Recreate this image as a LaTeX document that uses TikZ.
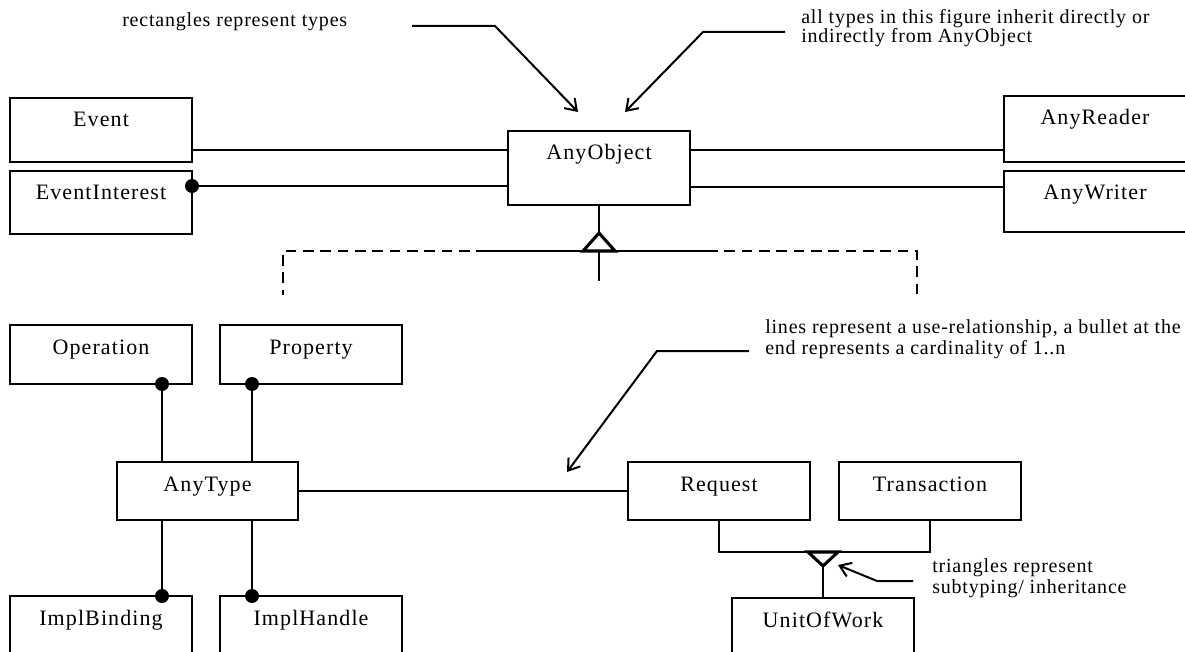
\documentclass[tikz,border=0pt]{standalone}
\usepackage{fontspec}
\setmainfont{Liberation Serif}
\newfontfamily\boxfont[LetterSpace=5]{Liberation Serif}
\newfontfamily\annfont[LetterSpace=4]{Liberation Serif}
\usetikzlibrary{arrows.meta,calc}
\begin{document}
\begin{tikzpicture}[x=0.75pt,y=-0.75pt,
  typebox/.style={draw, line width=1.5pt, anchor=north west, inner xsep=0pt, inner ysep=0pt,
    outer sep=0pt, minimum width=136.5pt, text height=21.75pt,
    font=\boxfont\fontsize{16.5pt}{19pt}\selectfont},
  conn/.style={line width=1.6pt},
  dashline/.style={line width=1.6pt, dash pattern=on 8pt off 5pt},
  tri/.style={line width=2.3pt, fill=white, line join=miter},
  ann/.style={inner sep=0pt, anchor=base west, align=left},
  annA/.style={font=\annfont\fontsize{15pt}{13.5pt}\selectfont},
  annB/.style={font=\annfont\fontsize{15pt}{15.75pt}\selectfont},
  annarrow/.style={line width=1.5pt, -{Straight Barb[length=8pt,width=11pt]}},
  bullet/.style={fill=black}
]
\useasboundingbox (0,0) rectangle (1185,652);
\clip (0,0) rectangle (1185,652);

% ---------- top row ----------
\node[typebox, text depth=26.25pt] (event) at (10,98) {Event};
\node[typebox, text depth=25.5pt] (evint) at (10,171) {EventInterest};
\node[typebox, text depth=33.75pt] (anyobj) at (508,131) {AnyObject};
\node[typebox, text depth=27.75pt] (reader) at (1004,96) {AnyReader};
\node[typebox, text depth=24pt] (writer) at (1004,171) {AnyWriter};

\path (event.south east) ++(0,-12) coordinate (e1);
\draw[conn] (e1) -- (anyobj.west |- e1);
\path (evint.north east) ++(0,15) coordinate (e2);
\draw[conn] (e2) -- (anyobj.west |- e2);
\fill[bullet] (e2) circle (7);
\path (reader.south west) ++(0,-12) coordinate (r1);
\draw[conn] (anyobj.east |- r1) -- (r1);
\path (writer.north west) ++(0,16) coordinate (w1);
\draw[conn] (anyobj.east |- w1) -- (w1);

% ---------- inheritance from AnyObject ----------
\path (anyobj.south) ++(0,28) coordinate (apex1);
\path (apex1) ++(0,18) coordinate (base1);
\path (base1) ++(-112,0) coordinate (hl);
\path (base1) ++(108,0) coordinate (hr);
\coordinate (dl) at (283,295);
\coordinate (dr) at (917,295);
\coordinate (down1) at ($(base1)+(0,30)$);
\draw[conn] (anyobj.south) -- (apex1);
\draw[dashline] (hl) -- (dl |- hl) -- (dl);
\draw[dashline] (hr) -- (dr |- hr) -- (dr);
\draw[line width=1.9pt] (hl) -- (hr);
\draw[conn] (base1) -- (down1);
\draw[tri] (apex1) -- ($(base1)+(-16,0)$) -- ($(base1)+(16,0)$) -- cycle;

% ---------- lower left ----------
\node[typebox, text depth=22.5pt] (op) at (10,325) {Operation};
\node[typebox, text depth=22.5pt] (prop) at (220,325) {Property};
\node[typebox, text depth=21.75pt, minimum width=135.75pt] (anytype) at (117,462) {AnyType};
\node[typebox, text depth=26.25pt] (implb) at (10,596) {ImplBinding};
\node[typebox, text depth=26.25pt] (implh) at (220,596) {ImplHandle};

\path (op.south east) ++(-30,0) coordinate (o1);
\path (prop.south west) ++(32,0) coordinate (p1);
\draw[conn] (o1) -- (o1 |- anytype.north);
\draw[conn] (p1) -- (p1 |- anytype.north);
\fill[bullet] (o1) circle (7);
\fill[bullet] (p1) circle (7);
\draw[conn] (o1 |- anytype.south) -- (o1 |- implb.north);
\draw[conn] (p1 |- anytype.south) -- (p1 |- implh.north);
\fill[bullet] (o1 |- implb.north) circle (7);
\fill[bullet] (p1 |- implh.north) circle (7);

% ---------- lower right ----------
\node[typebox, text depth=21.75pt] (req) at (628,462) {Request};
\node[typebox, text depth=21.75pt] (trans) at (839,462) {Transaction};
\node[typebox, text depth=26.25pt] (uow) at (732,598) {UnitOfWork};

\draw[conn] (anytype.east) -- (req.west);
\path (uow.north) ++(0,-32) coordinate (apex2);
\path (apex2) ++(0,-14) coordinate (base2);
\draw[line width=1.9pt] (req.south) -- (req.south |- base2) -- (trans.south |- base2) -- (trans.south);
\draw[tri] (apex2) -- ($(base2)+(-15,0)$) -- ($(base2)+(15,0)$) -- cycle;
\draw[conn] (apex2) -- (uow.north);

% ---------- annotations ----------
\node[ann, annA] (t1) at (122,27) {rectangles represent types};
\coordinate (a1s) at (412,26);
\coordinate (a1m) at (495,26);
\coordinate (a1t) at (578,112);
\draw[annarrow] (a1s) -- (a1m) -- (a1t);

\node[ann, annA] (t2) at (801,43) {all types in this figure inherit directly or\\indirectly from AnyObject};
\coordinate (a2s) at (785,32);
\coordinate (a2m) at (703,32);
\coordinate (a2t) at (625,112);
\draw[annarrow] (a2s) -- (a2m) -- (a2t);

\node[ann, annB] (t3) at (765,354) {lines represent a use-relationship, a bullet at the\\end represents a cardinality of 1..n};
\coordinate (a3s) at (749,351);
\coordinate (a3m) at (657,351);
\coordinate (a3t) at (567,472);
\draw[annarrow] (a3s) -- (a3m) -- (a3t);

\node[ann, annB] (t4) at (932,593) {triangles represent\\subtyping/ inheritance};
\coordinate (a4s) at (913,581);
\coordinate (a4m) at (877,581);
\coordinate (a4t) at (838,565);
\draw[annarrow] (a4s) -- (a4m) -- (a4t);
\end{tikzpicture}
\end{document}
